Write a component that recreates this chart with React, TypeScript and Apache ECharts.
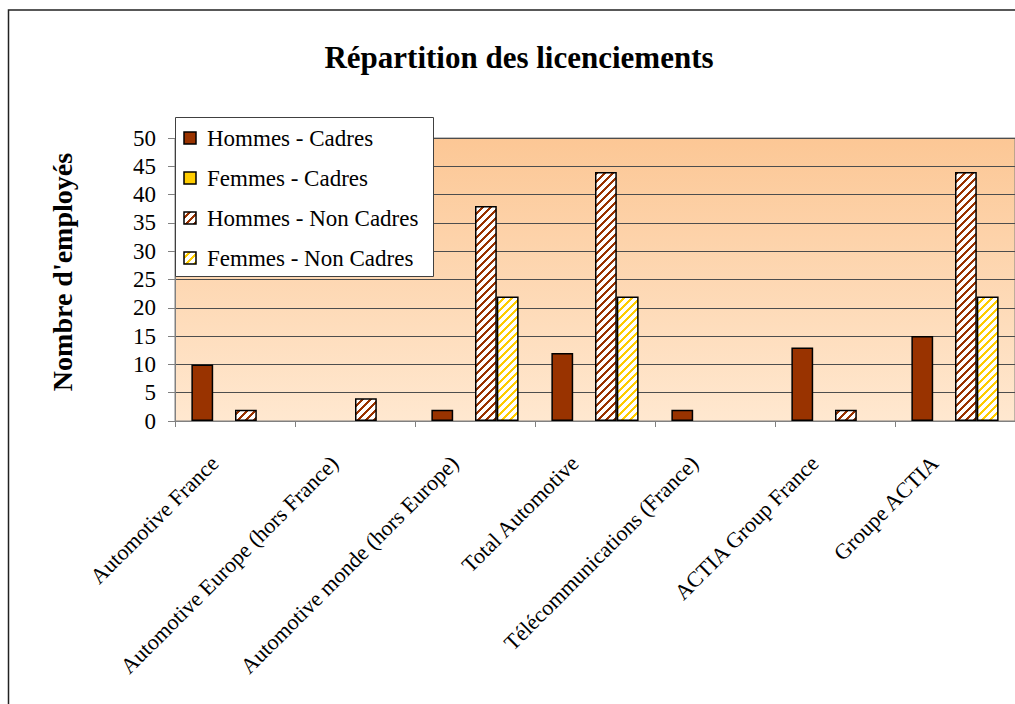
import React, { useEffect, useRef } from "react";
import * as echarts from "echarts";

const categories = [
  "Automotive France",
  "Automotive Europe (hors France)",
  "Automotive monde (hors Europe)",
  "Total Automotive",
  "Télécommunications (France)",
  "ACTIA Group France",
  "Groupe ACTIA",
];
const seriesNames = [
  "Hommes - Cadres",
  "Femmes - Cadres",
  "Hommes - Non Cadres",
  "Femmes - Non Cadres",
];
const hommesCadres = [10, 0, 2, 12, 2, 13, 15];
const femmesCadres = [0, 0, 0, 0, 0, 0, 0];
const hommesNonCadres = [2, 4, 38, 44, 0, 2, 44];
const femmesNonCadres = [0, 0, 22, 22, 0, 0, 22];
const yMin = 0;
const yMax = 50;
const yStep = 5;

const titleText = "Répartition des licenciements";
const yName = "Nombre d'employés";

const FONT = '"Liberation Serif", "Times New Roman", Times, serif';
const BROWN = "#993300";
const YELLOW = "#FFCC00";

function makeStripe(color: string): string {
  const size = 8;
  const c = document.createElement("canvas");
  c.width = size;
  c.height = size;
  const ctx = c.getContext("2d")!;
  const img = ctx.createImageData(size, size);
  const r = parseInt(color.slice(1, 3), 16);
  const g = parseInt(color.slice(3, 5), 16);
  const b = parseInt(color.slice(5, 7), 16);
  for (let y = 0; y < size; y++) {
    for (let x = 0; x < size; x++) {
      const i = (y * size + x) * 4;
      const on = (x + y) % size < 3;
      img.data[i] = on ? r : 255;
      img.data[i + 1] = on ? g : 255;
      img.data[i + 2] = on ? b : 255;
      img.data[i + 3] = 255;
    }
  }
  ctx.putImageData(img, 0, 0);
  return c.toDataURL();
}

export default function App() {
  const ref = useRef<HTMLDivElement>(null);
  useEffect(() => {
    if (!ref.current) return;
    const chart = echarts.init(ref.current, undefined, { renderer: "svg" });
    const brownStripe = {
      image: makeStripe(BROWN),
      repeat: "repeat",
      imageWidth: 8,
      imageHeight: 8,
    };
    const yellowStripe = {
      image: makeStripe(YELLOW),
      repeat: "repeat",
      imageWidth: 8,
      imageHeight: 8,
    };
    const fills: any[] = [BROWN, YELLOW, brownStripe, yellowStripe];
    const values = [hommesCadres, femmesCadres, hommesNonCadres, femmesNonCadres];

    const series = seriesNames.map((name, k) => ({
      name,
      type: "bar",
      barGap: "0%",
      barCategoryGap: "27.3%",
      itemStyle: { color: fills[k], borderColor: "#000", borderWidth: 1.5 },
      data: values[k].map((v) =>
        v === 0 ? { value: v, itemStyle: { borderWidth: 0, opacity: 0 } } : v
      ),
    }));

    // legend drawn as graphic elements (box, swatches, labels)
    const legendX = 175;
    const legendY = 117;
    const legendW = 258;
    const legendH = 159;
    const firstRow = 138;
    const rowStep = 40;
    const legendItems: any[] = [
      {
        type: "rect",
        z: 100,
        shape: { x: legendX + 0.5, y: legendY + 0.5, width: legendW, height: legendH },
        style: { fill: "#fff", stroke: "#404040", lineWidth: 1 },
      },
    ];
    seriesNames.forEach((name, k) => {
      const cy = firstRow + k * rowStep;
      legendItems.push({
        type: "rect",
        z: 101,
        shape: { x: 184, y: cy - 6, width: 12, height: 12 },
        style: { fill: fills[k], stroke: "#000", lineWidth: 1.5 },
      });
      legendItems.push({
        type: "text",
        z: 101,
        x: 207,
        y: cy,
        style: {
          text: name,
          font: `23px ${FONT}`,
          fill: "#000",
          align: "left",
          verticalAlign: "middle",
        },
      });
    });

    chart.setOption({
      animation: false,
      legend: { show: false },
      grid: {
        left: 175,
        top: 138,
        right: -2,
        bottom: 283,
        show: true,
        borderColor: "#808080",
        borderWidth: 1,
        backgroundColor: new echarts.graphic.LinearGradient(0, 0, 0, 1, [
          { offset: 0, color: "#FCC795" },
          { offset: 1, color: "#FFE8D0" },
        ]),
      },
      xAxis: {
        type: "category",
        data: categories,
        axisLine: { lineStyle: { color: "#808080", width: 1 } },
        axisTick: { show: true, length: 6, lineStyle: { color: "#808080" } },
        axisLabel: {
          rotate: 45,
          interval: 0,
          margin: 18,
          padding: [0, 29, 0, 0],
          fontFamily: FONT,
          fontSize: 22,
          color: "#000",
        },
      },
      yAxis: {
        type: "value",
        min: yMin,
        max: yMax,
        interval: yStep,
        axisLine: { show: true, lineStyle: { color: "#808080", width: 1 } },
        axisTick: { show: true, length: 7, lineStyle: { color: "#808080" } },
        axisLabel: {
          margin: 19,
          fontFamily: FONT,
          fontSize: 23,
          color: "#000",
        },
        splitLine: { lineStyle: { color: "#4d4d4d", width: 1 } },
      },
      graphic: [
        {
          type: "rect",
          z: -10,
          silent: true,
          shape: { x: 8.5, y: 10, width: 1030, height: 720 },
          style: { fill: "none", stroke: "#222", lineWidth: 1.5 },
        },
        {
          type: "text",
          x: 519,
          y: 57,
          style: {
            text: titleText,
            font: `bold 31px ${FONT}`,
            fill: "#000",
            align: "center",
            verticalAlign: "middle",
          },
        },
        {
          type: "text",
          x: 62,
          y: 272,
          rotation: Math.PI / 2,
          style: {
            text: yName,
            font: `bold 28px ${FONT}`,
            fill: "#000",
            align: "center",
            verticalAlign: "middle",
          },
        },
        ...legendItems,
      ],
      series,
    });
    return () => chart.dispose();
  }, []);
  return (
    <div
      ref={ref}
      style={{ position: "fixed", left: 0, top: 0, width: 1015, height: 704, background: "#fff" }}
    />
  );
}
